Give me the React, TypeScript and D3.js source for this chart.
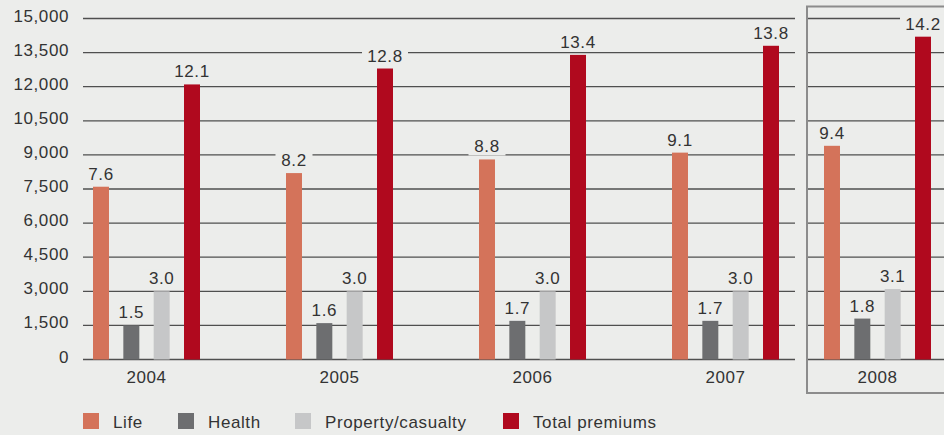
import React from "react";
import * as d3 from "d3";

// Premiums by line of business (billions); the axis is in millions
const mainYears = ["2004", "2005", "2006", "2007"];
const sideYears = ["2008"];
const series = ["Life", "Health", "Property/casualty", "Total premiums"];
const life = [7.6, 8.2, 8.8, 9.1, 9.4];
const health = [1.5, 1.6, 1.7, 1.7, 1.8];
const propertyCasualty = [3.0, 3.0, 3.0, 3.0, 3.1];
const totalPremiums = [12.1, 12.8, 13.4, 13.8, 14.2];
const yTicks = [0, 1500, 3000, 4500, 6000, 7500, 9000, 10500, 12000, 13500, 15000];

const colors = ["#d4735a", "#6d6e70", "#c6c7c8", "#b0091e"];
const BG = "#ecedeb";
const GRID = "#4f4f4f";
const TEXT = "#333333";
const FONT = "'Liberation Sans', Arial, Helvetica, sans-serif";

const W = 944;
const H = 435;

export default function App() {
  const allYears = [...mainYears, ...sideYears];
  const values = [life, health, propertyCasualty, totalPremiums];

  const y = d3.scaleLinear().domain([0, 15000]).range([359.5, 18.5]);
  const xMain = d3.scaleBand<string>().domain(mainYears).range([50, 822]);
  const xSide = d3.scaleBand<string>().domain(sideYears).range([807, 948]);
  const inner = d3
    .scaleBand<string>()
    .domain(series)
    .range([-53.5, 53.5])
    .paddingInner(0.473);

  const groupCenter = (yr: string) =>
    mainYears.includes(yr)
      ? (xMain(yr) as number) + xMain.bandwidth() / 2
      : (xSide(yr) as number) + xSide.bandwidth() / 2;

  const bars = allYears.flatMap((yr, i) =>
    series.map((s, j) => {
      const v = values[j][i];
      const x0 = groupCenter(yr) + (inner(s) as number);
      return {
        key: `${yr}-${s}`,
        x: x0,
        w: inner.bandwidth(),
        top: y(v * 1000),
        label: v.toFixed(1),
        color: colors[j],
      };
    })
  );

  const legendX = [83, 178, 295, 503];
  const fontStyle = { fontFamily: FONT, fontSize: 17, letterSpacing: 0.6 };

  return (
    <svg
      width={W}
      height={H}
      style={{ position: "absolute", left: 0, top: 0, display: "block" }}
    >
      <rect x={0} y={0} width={W} height={H} fill={BG} />

      {/* gridlines */}
      {yTicks.map((t) => (
        <g key={t}>
          <line x1={83} x2={795} y1={y(t)} y2={y(t)} stroke={GRID} strokeWidth={1.3} />
          <line x1={808} x2={W} y1={y(t)} y2={y(t)} stroke={GRID} strokeWidth={1.3} />
          <text
            x={69}
            y={y(t) + 3}
            textAnchor="end"
            fill={TEXT}
            style={fontStyle}
          >
            {d3.format(",")(t)}
          </text>
        </g>
      ))}

      {/* 2008 panel frame */}
      <rect
        x={807}
        y={6.5}
        width={200}
        height={386.5}
        fill="none"
        stroke="#8c8c8c"
        strokeWidth={2}
      />

      {/* label backgrounds break the gridlines */}
      {bars.map((b) => {
        const tw = b.label.length * 9 + 10;
        return (
          <rect
            key={`bg-${b.key}`}
            x={b.x + b.w / 2 - tw / 2}
            y={b.top - 22}
            width={tw}
            height={18}
            fill={BG}
          />
        );
      })}

      {/* bars */}
      {bars.map((b) => (
        <rect
          key={b.key}
          x={b.x}
          y={b.top}
          width={b.w}
          height={y(0) - b.top}
          fill={b.color}
        />
      ))}

      {/* value labels */}
      {bars.map((b) => (
        <text
          key={`t-${b.key}`}
          x={b.x + b.w / 2}
          y={b.top - 7}
          textAnchor="middle"
          fill={TEXT}
          style={fontStyle}
        >
          {b.label}
        </text>
      ))}

      {/* year labels */}
      {allYears.map((yr) => (
        <text
          key={`yr-${yr}`}
          x={groupCenter(yr)}
          y={383}
          textAnchor="middle"
          fill={TEXT}
          style={fontStyle}
        >
          {yr}
        </text>
      ))}

      {/* legend */}
      {series.map((s, j) => (
        <g key={`lg-${s}`}>
          <rect x={legendX[j]} y={413} width={16} height={16} fill={colors[j]} />
          <text x={legendX[j] + 30} y={428} fill={TEXT} style={fontStyle}>
            {s}
          </text>
        </g>
      ))}
    </svg>
  );
}
